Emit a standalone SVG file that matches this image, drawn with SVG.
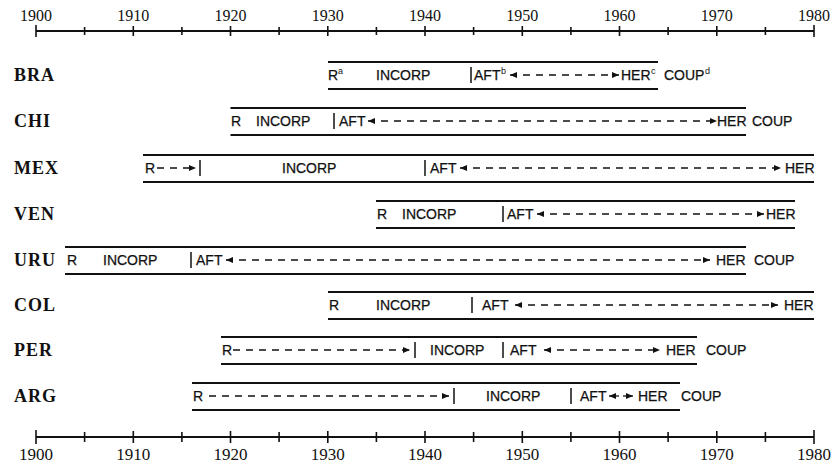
<svg xmlns="http://www.w3.org/2000/svg" width="833" height="471" viewBox="0 0 833 471">
<style>
.ax{stroke:#111;stroke-width:2;fill:none}
.tk{stroke:#111;stroke-width:1.6}
.yr{font-family:"Liberation Serif","Times New Roman",serif;font-size:16px;fill:#111;text-anchor:middle}
.cn{font-family:"Liberation Serif","Times New Roman",serif;font-size:18px;font-weight:bold;fill:#111;letter-spacing:1px}
.bl{stroke:#111;stroke-width:1.8}
.sp{stroke:#111;stroke-width:1.5}
.t{font-family:"Liberation Sans",Arial,sans-serif;font-size:14px;fill:#111;stroke:#111;stroke-width:0.25}
.sup{font-family:"Liberation Sans",Arial,sans-serif;font-size:9px;fill:#111}
.ar{stroke:#111;stroke-width:1.3;stroke-dasharray:7 6;fill:none}
.ars{stroke:#111;stroke-width:1.3;fill:none}
</style>
<defs>
<marker id="ah" viewBox="0 0 7 6" markerUnits="userSpaceOnUse" markerWidth="7" markerHeight="6" refX="7" refY="3" orient="auto-start-reverse">
<path d="M0,0 L7,3 L0,6 z" fill="#111"/>
</marker>
</defs>
<rect width="833" height="471" fill="#fff"/>

<g id="axis-top">
<line class="ax" x1="36" y1="31" x2="814" y2="31"/>
<g class="tk">
<line x1="36" y1="25" x2="36" y2="37"/><line x1="84.6" y1="27" x2="84.6" y2="35"/>
<line x1="133.3" y1="26" x2="133.3" y2="36"/><line x1="181.9" y1="27" x2="181.9" y2="35"/>
<line x1="230.5" y1="26" x2="230.5" y2="36"/><line x1="279.1" y1="27" x2="279.1" y2="35"/>
<line x1="327.8" y1="26" x2="327.8" y2="36"/><line x1="376.4" y1="27" x2="376.4" y2="35"/>
<line x1="425" y1="26" x2="425" y2="36"/><line x1="473.6" y1="27" x2="473.6" y2="35"/>
<line x1="522.3" y1="26" x2="522.3" y2="36"/><line x1="570.9" y1="27" x2="570.9" y2="35"/>
<line x1="619.5" y1="26" x2="619.5" y2="36"/><line x1="668.1" y1="27" x2="668.1" y2="35"/>
<line x1="716.8" y1="26" x2="716.8" y2="36"/><line x1="765.4" y1="27" x2="765.4" y2="35"/>
<line x1="814" y1="25" x2="814" y2="37"/>
</g>
<text class="yr" x="36" y="21">1900</text><text class="yr" x="133.3" y="21">1910</text>
<text class="yr" x="230.5" y="21">1920</text><text class="yr" x="327.8" y="21">1930</text>
<text class="yr" x="425" y="21">1940</text><text class="yr" x="522.3" y="21">1950</text>
<text class="yr" x="619.5" y="21">1960</text><text class="yr" x="716.8" y="21">1970</text>
<text class="yr" x="814" y="21">1980</text>
</g>

<g id="axis-bottom">
<line class="ax" x1="36" y1="437" x2="814" y2="437"/>
<g class="tk">
<line x1="36" y1="430" x2="36" y2="444"/><line x1="84.6" y1="432" x2="84.6" y2="442"/>
<line x1="133.3" y1="431" x2="133.3" y2="443"/><line x1="181.9" y1="432" x2="181.9" y2="442"/>
<line x1="230.5" y1="431" x2="230.5" y2="443"/><line x1="279.1" y1="432" x2="279.1" y2="442"/>
<line x1="327.8" y1="431" x2="327.8" y2="443"/><line x1="376.4" y1="432" x2="376.4" y2="442"/>
<line x1="425" y1="431" x2="425" y2="443"/><line x1="473.6" y1="432" x2="473.6" y2="442"/>
<line x1="522.3" y1="431" x2="522.3" y2="443"/><line x1="570.9" y1="432" x2="570.9" y2="442"/>
<line x1="619.5" y1="431" x2="619.5" y2="443"/><line x1="668.1" y1="432" x2="668.1" y2="442"/>
<line x1="716.8" y1="431" x2="716.8" y2="443"/><line x1="765.4" y1="432" x2="765.4" y2="442"/>
<line x1="814" y1="430" x2="814" y2="444"/>
</g>
<text class="yr" x="36" y="460" style="font-size:17px">1900</text><text class="yr" x="133.3" y="460" style="font-size:17px">1910</text>
<text class="yr" x="230.5" y="460" style="font-size:17px">1920</text><text class="yr" x="327.8" y="460" style="font-size:17px">1930</text>
<text class="yr" x="425" y="460" style="font-size:17px">1940</text><text class="yr" x="522.3" y="460" style="font-size:17px">1950</text>
<text class="yr" x="619.5" y="460" style="font-size:17px">1960</text><text class="yr" x="716.8" y="460" style="font-size:17px">1970</text>
<text class="yr" x="814" y="460" style="font-size:17px">1980</text>
</g>

<g id="BRA">
<text class="cn" x="14" y="81">BRA</text>
<line class="bl" x1="328" y1="62" x2="658" y2="62"/><line class="bl" x1="328" y1="89" x2="658" y2="89"/>
<line class="sp" x1="471" y1="67" x2="471" y2="83"/>
<text class="t" x="328" y="80">R</text><text class="sup" x="338" y="74">a</text>
<text class="t" x="376" y="80">INCORP</text>
<text class="t" x="474" y="80">AFT</text><text class="sup" x="501" y="74">b</text>
<text class="t" x="621" y="80">HER</text><text class="sup" x="651" y="74">c</text>
<text class="t" x="664" y="80">COUP</text><text class="sup" x="705" y="74">d</text>
</g>

<g id="CHI">
<text class="cn" x="14" y="127">CHI</text>
<line class="bl" x1="230.5" y1="108" x2="746" y2="108"/><line class="bl" x1="230.5" y1="135" x2="746" y2="135"/>
<line class="sp" x1="334" y1="113" x2="334" y2="129"/>
<text class="t" x="231" y="126">R</text>
<text class="t" x="256" y="126">INCORP</text>
<text class="t" x="339" y="126">AFT</text>
<text class="t" x="717" y="126">HER</text>
<text class="t" x="752" y="126">COUP</text>
</g>

<g id="MEX">
<text class="cn" x="14" y="174">MEX</text>
<line class="bl" x1="143" y1="155" x2="814" y2="155"/><line class="bl" x1="143" y1="182" x2="814" y2="182"/>
<line class="sp" x1="200" y1="160" x2="200" y2="176"/>
<line class="sp" x1="425" y1="160" x2="425" y2="176"/>
<text class="t" x="145" y="173">R</text>
<text class="t" x="282" y="173">INCORP</text>
<text class="t" x="430" y="173">AFT</text>
<text class="t" x="785" y="173">HER</text>
</g>

<g id="VEN">
<text class="cn" x="14" y="220">VEN</text>
<line class="bl" x1="376" y1="201" x2="795" y2="201"/><line class="bl" x1="376" y1="228" x2="795" y2="228"/>
<line class="sp" x1="503" y1="206" x2="503" y2="222"/>
<text class="t" x="377" y="219">R</text>
<text class="t" x="402" y="219">INCORP</text>
<text class="t" x="507" y="219">AFT</text>
<text class="t" x="766" y="219">HER</text>
</g>

<g id="URU">
<text class="cn" x="14" y="266">URU</text>
<line class="bl" x1="65" y1="247" x2="746" y2="247"/><line class="bl" x1="65" y1="274" x2="746" y2="274"/>
<line class="sp" x1="191" y1="252" x2="191" y2="268"/>
<text class="t" x="67" y="265">R</text>
<text class="t" x="103" y="265">INCORP</text>
<text class="t" x="196" y="265">AFT</text>
<text class="t" x="716" y="265">HER</text>
<text class="t" x="754" y="265">COUP</text>
</g>

<g id="COL">
<text class="cn" x="14" y="311">COL</text>
<line class="bl" x1="328" y1="292" x2="814" y2="292"/><line class="bl" x1="328" y1="319" x2="814" y2="319"/>
<line class="sp" x1="472" y1="297" x2="472" y2="313"/>
<text class="t" x="329" y="310">R</text>
<text class="t" x="376" y="310">INCORP</text>
<text class="t" x="482" y="310">AFT</text>
<text class="t" x="784" y="310">HER</text>
</g>

<g id="PER">
<text class="cn" x="14" y="356">PER</text>
<line class="bl" x1="221" y1="337" x2="697" y2="337"/><line class="bl" x1="221" y1="364" x2="697" y2="364"/>
<line class="sp" x1="415" y1="342" x2="415" y2="358"/>
<line class="sp" x1="503" y1="342" x2="503" y2="358"/>
<text class="t" x="222" y="355">R</text>
<text class="t" x="430" y="355">INCORP</text>
<text class="t" x="510" y="355">AFT</text>
<text class="t" x="666" y="355">HER</text>
<text class="t" x="706" y="355">COUP</text>
</g>

<g id="ARG">
<text class="cn" x="14" y="402">ARG</text>
<line class="bl" x1="192" y1="383" x2="680" y2="383"/><line class="bl" x1="192" y1="410" x2="680" y2="410"/>
<line class="sp" x1="454" y1="388" x2="454" y2="404"/>
<line class="sp" x1="571" y1="388" x2="571" y2="404"/>
<text class="t" x="193" y="401">R</text>
<text class="t" x="486" y="401">INCORP</text>
<text class="t" x="580" y="401">AFT</text>
<text class="t" x="638" y="401">HER</text>
<text class="t" x="681" y="401">COUP</text>
</g>

<g id="connectors">
<line class="ar" x1="510" y1="75" x2="619" y2="75" marker-start="url(#ah)" marker-end="url(#ah)"/>
<line class="ar" x1="368" y1="121" x2="717" y2="121" marker-start="url(#ah)" marker-end="url(#ah)"/>
<line class="ar" x1="157" y1="168" x2="196" y2="168" marker-end="url(#ah)"/>
<line class="ar" x1="460" y1="168" x2="781" y2="168" marker-start="url(#ah)" marker-end="url(#ah)"/>
<line class="ar" x1="537" y1="214" x2="764" y2="214" marker-start="url(#ah)" marker-end="url(#ah)"/>
<line class="ar" x1="226" y1="260" x2="710" y2="260" marker-start="url(#ah)" marker-end="url(#ah)"/>
<line class="ar" x1="515" y1="305" x2="778" y2="305" marker-start="url(#ah)" marker-end="url(#ah)"/>
<line class="ar" x1="233" y1="350" x2="410" y2="350" marker-end="url(#ah)"/>
<line class="ar" x1="544" y1="350" x2="660" y2="350" marker-start="url(#ah)" marker-end="url(#ah)"/>
<line class="ar" x1="209" y1="396" x2="449" y2="396" marker-end="url(#ah)"/>
<line class="ars" x1="609" y1="396" x2="619" y2="396" marker-start="url(#ah)"/>
<line class="ars" x1="623" y1="396" x2="633" y2="396" marker-end="url(#ah)"/>
</g>
</svg>
